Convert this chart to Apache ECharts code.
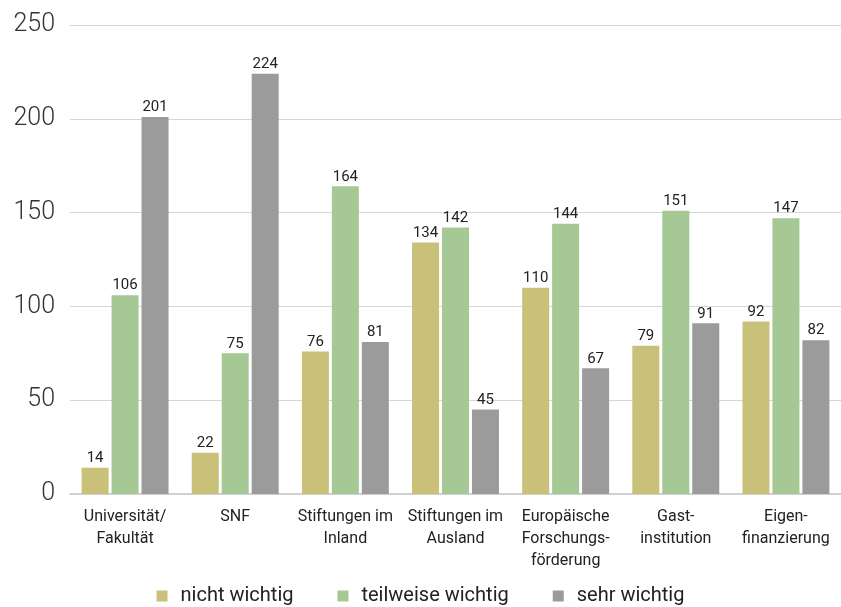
<!DOCTYPE html>
<html><head><meta charset="utf-8">
<script src="https://cdn.jsdelivr.net/npm/echarts@6/dist/echarts.min.js"></script>
<style>html,body{margin:0;padding:0;background:#fff}#c{width:841px;height:607px}</style>
</head><body><div id="c"></div>
<script>
const categories = ["Universität/\nFakultät", "SNF", "Stiftungen im\nInland", "Stiftungen im\nAusland", "Europäische\nForschungs-\nförderung", "Gast-\ninstitution", "Eigen-\nfinanzierung"];
const seriesNames = ["nicht wichtig", "teilweise wichtig", "sehr wichtig"];
const nichtWichtig = [14, 22, 76, 134, 110, 79, 92];
const teilweiseWichtig = [106, 75, 164, 142, 144, 151, 147];
const sehrWichtig = [201, 224, 81, 45, 67, 91, 82];
const colors = ["#c9c17a", "#a6c894", "#9b9b9b"];
const F = "Roboto, 'Noto Sans', sans-serif";
const chart = echarts.init(document.getElementById('c'), null, {renderer: 'canvas'});
const mk = (name, data, i) => ({
  name, type: 'bar', data, barWidth: 27, barGap: '11%',
  itemStyle: {color: colors[i]},
  label: {show: true, position: 'top', distance: 2, color: '#222', fontFamily: F, fontSize: 15, fontWeight: 'normal'}
});
chart.setOption({
  animation: false,
  textStyle: {fontFamily: F},
  grid: {left: 70, right: -4, top: 25, bottom: 113},
  legend: {
    bottom: -4, left: 'center', itemWidth: 11, itemHeight: 11, itemGap: 44, icon: 'rect',
    textStyle: {fontSize: 20, color: '#222', fontFamily: F, padding: [0, 0, 0, 8]}
  },
  xAxis: {
    type: 'category', data: categories,
    axisLine: {lineStyle: {color: '#d0d0d0', width: 2}},
    axisTick: {show: false},
    axisLabel: {interval: 0, color: '#222', fontSize: 16, lineHeight: 22, margin: 12, fontFamily: F}
  },
  yAxis: {
    type: 'value', min: 0, max: 250, interval: 50,
    axisLine: {show: false}, axisTick: {show: false},
    splitLine: {lineStyle: {color: '#d6d6d6', width: 1}},
    axisLabel: {color: '#333', fontSize: 25, fontWeight: 300, margin: 15, fontFamily: F}
  },
  series: [mk(seriesNames[0], nichtWichtig, 0), mk(seriesNames[1], teilweiseWichtig, 1), mk(seriesNames[2], sehrWichtig, 2)]
});
</script></body></html>
